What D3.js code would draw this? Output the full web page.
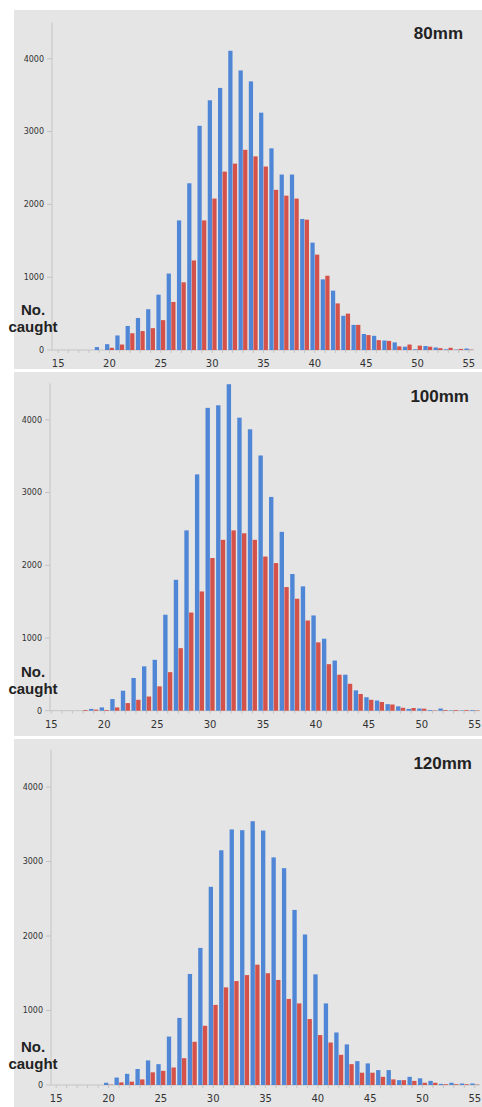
<!DOCTYPE html>
<html>
<head>
<meta charset="utf-8">
<script src="https://cdn.jsdelivr.net/npm/d3@7"></script>
<style>
  body { margin: 0; background: #fff; }
  svg { display: block; }
</style>
</head>
<body>
<svg id="chart" width="482" height="1107"></svg>
<script>
// fish length classes (cm)
var lengths = d3.range(15, 56);
var tickLabels = [15, 20, 25, 30, 35, 40, 45, 50, 55];
var yTicks = [0, 1000, 2000, 3000, 4000];
var seriesNames = ["blue", "red"];

// counts caught, one value per length class 15..55
var blue80 = [0, 0, 0, 0, 40, 80, 200, 330, 440, 560, 760, 1050, 1780, 2290, 3080, 3430, 3600, 4110, 3840, 3690, 3260,
  2770, 2410, 2410, 1800, 1475, 970, 815, 470, 345, 220, 195, 130, 105, 45, 10, 55, 35, 10, 5, 20];
var red80 = [0, 0, 0, 0, 0, 30, 75, 230, 260, 300, 410, 660, 930, 1230, 1780, 2080, 2450, 2560, 2750, 2660, 2520,
  2200, 2120, 2080, 1790, 1310, 1020, 640, 500, 345, 205, 135, 125, 50, 75, 60, 45, 25, 30, 15, 5];

var blue100 = [0, 0, 0, 0, 25, 45, 160, 275, 450, 610, 700, 1320, 1800, 2480, 3250, 4165, 4200, 4490, 4030, 3870, 3510,
  2940, 2460, 1880, 1710, 1310, 990, 690, 495, 280, 185, 140, 90, 60, 25, 30, 10, 30, 5, 5, 10];
var red100 = [0, 0, 0, 10, 15, 10, 45, 105, 150, 195, 335, 530, 860, 1350, 1640, 2100, 2350, 2480, 2440, 2350, 2120,
  2030, 1700, 1540, 1240, 940, 640, 495, 370, 230, 150, 120, 85, 40, 37, 28, 5, 10, 10, 10, 5];

var blue120 = [0, 0, 0, 0, 0, 30, 100, 150, 215, 330, 280, 650, 900, 1490, 1840, 2660, 3150, 3430, 3420, 3540, 3415,
  3055, 2910, 2350, 2020, 1485, 1095, 705, 545, 320, 290, 200, 200, 65, 110, 90, 55, 15, 30, 20, 20];
var red120 = [0, 0, 0, 0, 0, 5, 35, 45, 75, 170, 190, 235, 360, 580, 795, 1075, 1310, 1395, 1475, 1615, 1500,
  1410, 1155, 1095, 885, 670, 570, 405, 280, 165, 165, 110, 75, 65, 55, 30, 30, 10, 10, 10, 5];

var panels = [
  {title: "80mm", blue: blue80, red: red80, bg: [10, 369], axisX: 52, x0: 53, x1: 474, y0: 350, yTop: 22.4, titleX: 463, titleY: 39, labY: 315},
  {title: "100mm", blue: blue100, red: red100, bg: [372, 736], axisX: 50, x0: 46, x1: 480, y0: 710.7, yTop: 383.5, titleX: 469, titleY: 402, labY: 677},
  {title: "120mm", blue: blue120, red: red120, bg: [739, 1107], axisX: 51, x0: 51, x1: 480, y0: 1085, yTop: 749.7, titleX: 472, titleY: 769, labY: 1052}
];

var color = d3.scaleOrdinal().domain(seriesNames).range(["#4f86d6", "#d4524a"]);

var svg = d3.select("#chart");

panels.forEach(function(p) {
  var g = svg.append("g");

  g.append("rect")
      .attr("x", 14)
      .attr("y", p.bg[0])
      .attr("width", 482 - 14)
      .attr("height", p.bg[1] - p.bg[0])
      .attr("fill", "#e5e5e5");

  var x = d3.scaleBand()
      .domain(lengths)
      .range([p.x0, p.x1])
      .paddingInner(0.14)
      .paddingOuter(0.07);

  var x1 = d3.scaleBand()
      .domain(seriesNames)
      .range([0, x.bandwidth()])
      .paddingInner(0.08);

  var y = d3.scaleLinear()
      .domain([0, 4500])
      .range([p.y0, p.yTop]);

  // axis lines
  g.append("line")
      .attr("x1", p.axisX).attr("x2", p.axisX)
      .attr("y1", y(4500)).attr("y2", y(0))
      .attr("stroke", "#c4c4c4");
  g.append("line")
      .attr("x1", p.axisX).attr("x2", p.x1)
      .attr("y1", y(0)).attr("y2", y(0))
      .attr("stroke", "#c4c4c4");

  // x tick marks between categories
  g.append("g").selectAll("line")
    .data(lengths)
    .enter().append("line")
      .attr("x1", function(d) { return x(d) + x.bandwidth() / 2; })
      .attr("x2", function(d) { return x(d) + x.bandwidth() / 2; })
      .attr("y1", y(0))
      .attr("y2", y(0) + 3)
      .attr("stroke", "#c4c4c4");

  // y ticks
  var yt = g.append("g").selectAll("g")
    .data(yTicks)
    .enter().append("g")
      .attr("transform", function(d) { return "translate(0," + y(d) + ")"; });
  yt.append("line")
      .attr("x1", p.axisX - 5).attr("x2", p.axisX)
      .attr("stroke", "#c4c4c4");
  yt.append("text")
      .attr("x", p.axisX - 8)
      .attr("dy", "0.35em")
      .attr("text-anchor", "end")
      .attr("font-family", "DejaVu Sans, sans-serif")
      .attr("font-size", 8)
      .attr("fill", "#333")
      .text(function(d) { return d; });

  // bars
  var rows = lengths.map(function(len, i) {
    return {len: len, blue: p.blue[i], red: p.red[i]};
  });

  g.append("g")
    .selectAll("g")
    .data(rows)
    .enter().append("g")
      .attr("transform", function(d) { return "translate(" + x(d.len) + ",0)"; })
    .selectAll("rect")
    .data(function(d) { return seriesNames.map(function(k) { return {key: k, value: d[k]}; }); })
    .enter().append("rect")
      .attr("x", function(d) { return x1(d.key); })
      .attr("y", function(d) { return y(d.value); })
      .attr("width", x1.bandwidth())
      .attr("height", function(d) { return y(0) - y(d.value); })
      .attr("fill", function(d) { return color(d.key); });

  // x labels
  g.append("g").selectAll("text")
    .data(tickLabels)
    .enter().append("text")
      .attr("x", function(d) { return x(d) + x.bandwidth() / 2; })
      .attr("y", y(0) + 17)
      .attr("text-anchor", "middle")
      .attr("font-family", "DejaVu Sans, sans-serif")
      .attr("font-size", 10)
      .attr("fill", "#333")
      .text(function(d) { return d; });

  // title
  g.append("text")
      .attr("x", p.titleX)
      .attr("y", p.titleY)
      .attr("text-anchor", "end")
      .attr("font-family", "Liberation Sans, Arial, sans-serif")
      .attr("font-weight", "bold")
      .attr("font-size", 17)
      .attr("fill", "#222")
      .text(p.title);

  // axis label
  var lab = g.append("text")
      .attr("text-anchor", "middle")
      .attr("font-family", "Liberation Sans, Arial, sans-serif")
      .attr("font-weight", "bold")
      .attr("font-size", 15)
      .attr("fill", "#222");
  lab.append("tspan").attr("x", 33).attr("y", p.labY).text("No.");
  lab.append("tspan").attr("x", 33).attr("y", p.labY + 17).text("caught");
});
</script>
</body>
</html>
